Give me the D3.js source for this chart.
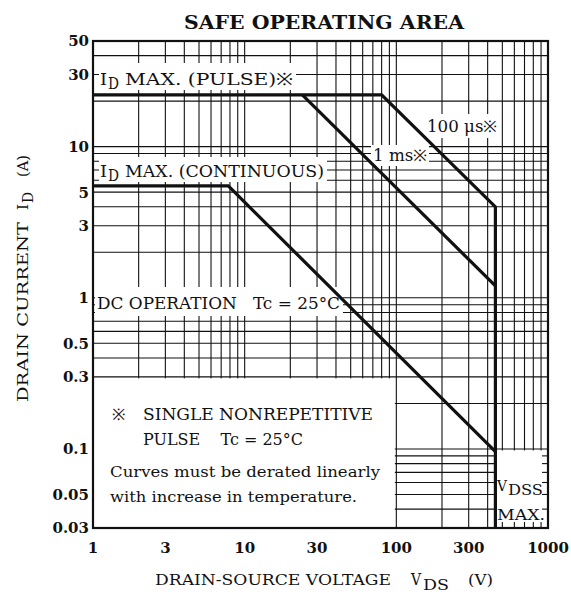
<!DOCTYPE html>
<html><head><meta charset="utf-8">
<script src="https://cdn.jsdelivr.net/npm/d3@7"></script>
<style>
html,body{margin:0;padding:0;background:#fff;}
text{font-family:"DejaVu Serif","Liberation Serif",serif;fill:#111;}
</style></head>
<body>
<svg id="c" width="571" height="595"></svg>
<script>
// ---- data ----
const xTicks = [1, 3, 10, 30, 100, 300, 1000];
const yTicks = [50, 30, 10, 5, 3, 1, 0.5, 0.3, 0.1, 0.05, 0.03];
// 100 us pulse limit (incl. ID max pulse and VDSS max)
const volts100us = [1, 80, 450, 450];
const amps100us  = [22, 22, 4.0, 0.03];
// 1 ms pulse limit
const volts1ms = [24, 450];
const amps1ms  = [22, 1.2];
// DC operation
const voltsDC = [1, 7.8, 450];
const ampsDC  = [5.5, 5.5, 0.096];
const vdssMax = 450;

const svg = d3.select("#c");
const L = 93, R = 548, T = 41, B = 528;
const x = d3.scaleLog().domain([1, 1000]).range([L, R]);
const y = d3.scaleLog().domain([0.03, 50]).range([B, T]);

// grid
const g = svg.append("g");
g.selectAll("line.v").data(x.ticks()).join("line")
  .attr("x1", d => x(d)).attr("x2", d => x(d)).attr("y1", T).attr("y2", B)
  .attr("stroke", "#111").attr("stroke-width", 1.1);
g.selectAll("line.h").data(y.ticks()).join("line")
  .attr("y1", d => y(d)).attr("y2", d => y(d)).attr("x1", L).attr("x2", R)
  .attr("stroke", "#111").attr("stroke-width", 1.1);

// blank (white) areas
const boxes = [
  [99, 63, 296, 90],      // ID MAX PULSE
  [99, 157, 327, 182],    // ID MAX CONTINUOUS
  [371, 145, 429, 166],   // 1 ms
  [423, 114, 500, 138],   // 100 us
  [95, 287, 343, 316],    // DC OPERATION
  [L + 1, y(0.3) + 1.5, x(100) - 1.5, B],   // note area
  [x(vdssMax) + 1, y(0.1) + 1.5, R, B]       // VDSS area
];
svg.append("g").selectAll("rect").data(boxes).join("rect")
  .attr("x", d => d[0]).attr("y", d => d[1])
  .attr("width", d => d[2] - d[0]).attr("height", d => d[3] - d[1])
  .attr("fill", "#fff");

// small ticks in VDSS area
const tk = svg.append("g").attr("stroke", "#111").attr("stroke-width", 1.1);
tk.selectAll("line.b").data(x.ticks().filter(d => d > vdssMax && d < 1000)).join("line")
  .attr("x1", d => x(d)).attr("x2", d => x(d)).attr("y1", B).attr("y2", B - 6);
tk.selectAll("line.r").data(y.ticks().filter(d => d < 0.1 && d > 0.03)).join("line")
  .attr("y1", d => y(d)).attr("y2", d => y(d)).attr("x1", R).attr("x2", R - 6);

// frame
svg.append("rect").attr("x", L).attr("y", T).attr("width", R - L).attr("height", B - T)
  .attr("fill", "none").attr("stroke", "#111").attr("stroke-width", 2.2);

// curves
const line = d3.line().x(d => x(d[0])).y(d => y(d[1]));
const curves = [
  d3.zip(volts100us, amps100us),
  d3.zip(volts1ms, amps1ms),
  d3.zip(voltsDC, ampsDC)
];
svg.append("g").selectAll("path").data(curves).join("path")
  .attr("d", line).attr("fill", "none").attr("stroke", "#111")
  .attr("stroke-width", 3.2).attr("stroke-linejoin", "miter");

// axis tick labels
svg.append("g").selectAll("text").data(yTicks).join("text")
  .attr("x", 89).attr("y", d => y(d)).attr("dy", "0.36em")
  .attr("text-anchor", "end").attr("font-size", 15).attr("font-weight", "bold")
  .text(d => d);
svg.append("g").selectAll("text").data(xTicks).join("text")
  .attr("x", d => x(d)).attr("y", 553)
  .attr("text-anchor", "middle").attr("font-size", 15).attr("font-weight", "bold")
  .text(d => d);

// title
svg.append("text").attr("x", 324).attr("y", 29).attr("text-anchor", "middle")
  .attr("font-size", 19).attr("font-weight", "bold").attr("textLength", 280)
  .attr("lengthAdjust", "spacingAndGlyphs").text("SAFE OPERATING AREA");

function txt(px, py, size, str, len) {
  const t = svg.append("text").attr("x", px).attr("y", py).attr("font-size", size)
    .attr("xml:space", "preserve").text(str);
  if (len) t.attr("textLength", len).attr("lengthAdjust", "spacingAndGlyphs");
  return t;
}

// annotations
txt(100, 85, 17, "I", 7);
txt(108, 89, 16, "D", 11);
txt(125, 85, 17, "MAX. (PULSE)※", 168);
txt(100, 177, 17, "I", 7);
txt(108, 181, 16, "D", 11);
txt(125, 177, 17, "MAX. (CONTINUOUS)", 199);
txt(373, 161, 16, "1 ms※", 54);
txt(427, 132, 16, "100 μs※", 70);
txt(97, 309, 16.5, "DC OPERATION   Tc = 25°C", 243);

// note
txt(112, 420, 16, "※");
txt(143, 420, 16, "SINGLE NONREPETITIVE", 230);
txt(143, 445, 16, "PULSE    Tc = 25°C", 160);
txt(110, 477, 15.5, "Curves must be derated linearly", 270);
txt(110, 502, 15.5, "with increase in temperature.", 247);

// VDSS MAX
txt(497, 491, 15, "V", 10);
txt(508, 495, 14.5, "DSS", 35);
txt(497, 520, 15, "MAX.", 48);

// axis titles
txt(155, 585, 15.5, "DRAIN-SOURCE VOLTAGE", 236);
txt(411, 585, 16, "V", 10);
txt(423, 590, 15.5, "DS", 26);
txt(468, 585, 15.5, "(V)", 25);
const yg = svg.append("g").attr("transform", "translate(28,0) rotate(-90)");
function ytxt(py, dx, size, str, len) {
  yg.append("text").attr("x", -py).attr("y", dx).attr("font-size", size)
    .attr("textLength", len).attr("lengthAdjust", "spacingAndGlyphs").text(str);
}
ytxt(402, 0, 15, "DRAIN CURRENT", 180);
ytxt(210, 0, 15.5, "I", 6);
ytxt(203, 5, 15, "D", 11);
ytxt(177, 0, 15, "(A)", 22);
</script>
</body></html>
